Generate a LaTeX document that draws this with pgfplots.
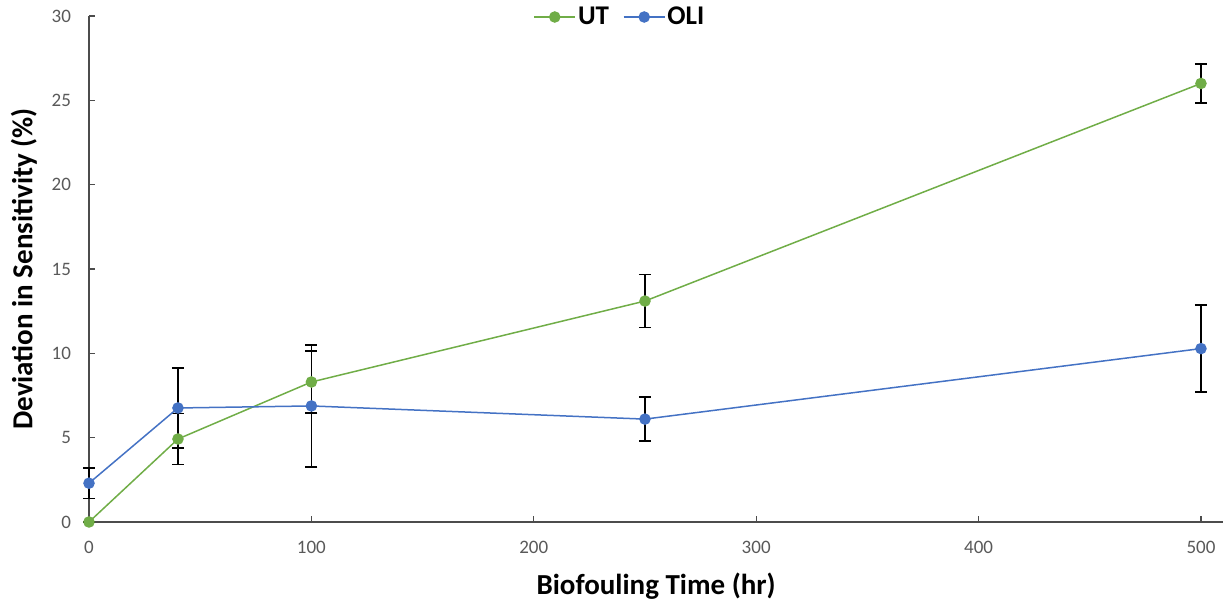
\documentclass[border=0pt]{standalone}
\usepackage{pgfplots}
\pgfplotsset{compat=1.18}
\usepackage{pgfplotstable}
\usepackage{fontspec}
\setmainfont{Carlito}
\definecolor{exgreen}{RGB}{112,173,71}
\definecolor{exblue}{RGB}{68,114,196}
\definecolor{tick}{RGB}{89,89,89}
\pgfplotstableread{
x y e
0 0 0
40 4.92 1.5
100 8.30 1.84
250 13.1 1.57
500 26.0 1.15
}\ut
\pgfplotstableread{
x y e
0 2.3 0.9
40 6.76 2.37
100 6.88 3.62
250 6.1 1.3
500 10.28 2.58
}\oli
\begin{document}
\begin{tikzpicture}
\useasboundingbox (0,0) rectangle (612.5pt,301.5pt);
\begin{axis}[
  at={(44.5pt,40.5pt)}, anchor=south west,
  scale only axis, width=567.1pt, height=253pt,
  xmin=0, xmax=510, ymin=0, ymax=30,
  xtick={0,100,...,500}, ytick={0,5,...,30},
  axis x line=bottom, axis y line=left,
  axis line style={-, black!70, line width=0.6pt},
  tick style={black!70, line width=0.6pt},
  tick align=inside, major tick length=3pt,
  /pgf/number format/assume math mode=true,
  ticklabel style={font=\fontsize{9.5}{11}\selectfont, text=tick},
  xticklabel style={yshift=-6pt},
  yticklabel style={xshift=-5.5pt},
  xlabel={\textbf{Biofouling Time (hr)}},
  ylabel={\textbf{Deviation in Sensitivity (\%)}},
  label style={font=\fontsize{14.5}{16}\selectfont, text=black},
  xlabel style={yshift=-3pt},
  ylabel style={yshift=0.5pt},
  legend columns=2,
  legend style={at={(0.469,0.998)}, anchor=center, draw=none, fill=none,
    font=\fontsize{13.5}{15}\selectfont\bfseries, text=black,
    inner sep=0pt,
    /tikz/every odd column/.append style={column sep=-1pt},
    /tikz/every even column/.append style={column sep=5pt}},
  legend image code/.code={
    \draw[#1, mark=none] (0cm,0cm) -- (0.72cm,0cm);
    \draw[#1, only marks] plot coordinates {(0.36cm,0cm)};
  },
  clip=false,
]
\addplot[exgreen, line width=0.75pt, mark=*, mark size=2.5pt,
  error bars/.cd, y dir=both, y explicit,
  error bar style={black, line width=0.75pt},
  error mark options={black, line width=0.75pt, mark size=3pt, rotate=90}]
  table[x=x, y=y, y error=e] {\ut};
\addlegendentry{UT}
\addplot[exblue, line width=0.75pt, mark=*, mark size=2.5pt,
  error bars/.cd, y dir=both, y explicit,
  error bar style={black, line width=0.75pt},
  error mark options={black, line width=0.75pt, mark size=3pt, rotate=90}]
  table[x=x, y=y, y error=e] {\oli};
\addlegendentry{OLI}
\end{axis}
\end{tikzpicture}
\end{document}
